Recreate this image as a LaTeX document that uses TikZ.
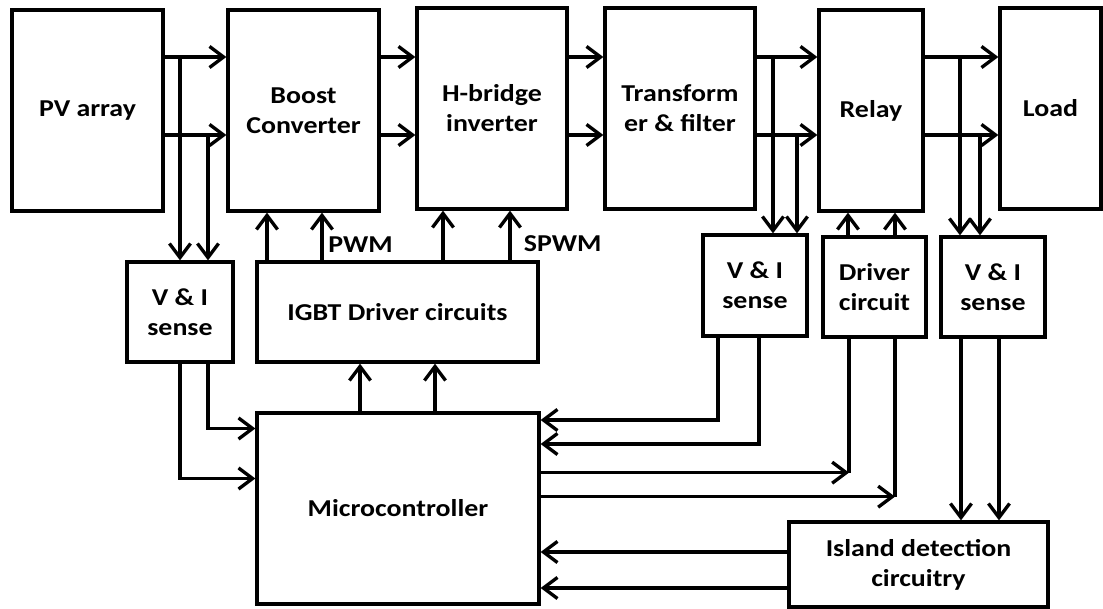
\documentclass[tikz,border=0pt]{standalone}
\usepackage{fontspec}
\setmainfont{Carlito}[FakeStretch=1.15]
\usetikzlibrary{arrows.meta,positioning,calc}

\begin{document}
\begin{tikzpicture}[x=0.02cm,y=-0.02cm,
  blk/.style={draw,line width=1.9pt,inner sep=0pt,align=center,font=\fontsize{13.8}{17}\selectfont\bfseries},
  arr/.style={line width=1.9pt,-{Straight Barb[length=8pt,width=12pt]}},
  wire/.style={line width=1.9pt},
  lbl/.style={font=\fontsize{13.8}{17}\selectfont\bfseries,inner sep=2pt}]
  \useasboundingbox (0,0) rectangle (1103,609);
  % Power stage
  \node[blk,minimum width=3.02cm,minimum height=4.02cm] (pv) at (87.5,110.5) {PV array};
  \node[blk,minimum width=3.02cm,minimum height=4.02cm] (boost) at (303.5,110.5) {Boost\\Converter};
  \node[blk,minimum width=3cm,minimum height=4.02cm] (hb) at (492,108.5) {H-bridge\\inverter};
  \node[blk,minimum width=3cm,minimum height=4.02cm] (tf) at (680,108.5) {Transform\\er \& filter};
  \node[blk,minimum width=2.08cm,minimum height=4.02cm] (relay) at (871,110.5) {Relay};
  \node[blk,minimum width=2.02cm,minimum height=4.02cm] (load) at (1050.5,108.5) {Load};
  % Sensing and drivers
  \node[blk,minimum width=2.12cm,minimum height=2cm] (vis1) at (180,312) {V \& I\\sense};
  \node[blk,minimum width=5.62cm,minimum height=2cm] (igbt) at (397.5,312) {IGBT Driver circuits};
  \node[blk,minimum width=2.08cm,minimum height=2.02cm] (vis2) at (755,285.5) {V \& I\\sense};
  \node[blk,minimum width=2.06cm,minimum height=2cm] (drv) at (874.5,287) {Driver\\circuit};
  \node[blk,minimum width=2.08cm,minimum height=2cm] (vis3) at (993,287) {V \& I\\sense};
  % Control
  \node[blk,minimum width=5.64cm,minimum height=3.82cm] (mcu) at (398,508.5) {Microcontroller};
  \node[blk,minimum width=5.18cm,minimum height=1.7cm] (isl) at (918.5,564.5) {Island detection\\circuitry};
  % Power lines
  \coordinate (ra) at (0,57);
  \coordinate (rb) at (0,135);
  \foreach \a/\b in {pv/boost,boost/hb,hb/tf,tf/relay,relay/load}{
    \draw[arr] (\a.east |- ra) -- (\b.west |- ra);
    \draw[arr] (\a.east |- rb) -- (\b.west |- rb);
  }
  % Taps down to the sense boxes
  \foreach \s/\dx/\r in {vis1/0/ra,vis1/28/rb,vis2/18/ra,vis2/42/rb,vis3/-33/ra,vis3/-13/rb}
    \draw[arr] ($(\s.north |- \r)+(\dx,0)$) -- ($(\s.north)+(\dx,0)$);
  % Gate and relay drive
  \foreach \s/\t/\dx in {igbt/boost/-36.5,igbt/boost/18.5,igbt/hb/-49,igbt/hb/18,drv/relay/-23,drv/relay/24,mcu/igbt/-37.5,mcu/igbt/37.5}
    \draw[arr] ($(\t.south |- \s.north)+(\dx,0)$) -- ($(\t.south)+(\dx,0)$);
  \node[lbl,anchor=west] (pwm) at ($(boost.south)+(21,32)$) {PWM};
  \node[lbl,anchor=west] (spwm) at ($(hb.south)+(28,33)$) {SPWM};
  % Feedback to the microcontroller
  \draw[arr] (vis1.south) |- ($(mcu.west)+(0,-30)$);
  \draw[arr] ($(vis1.south)+(28,0)$) |- ($(mcu.west)+(0,-80)$);
  \draw[arr] ($(vis2.south)+(-37,0)$) |- ($(mcu.east)+(0,-88.5)$);
  \draw[arr] ($(vis2.south)+(4,0)$) |- ($(mcu.east)+(0,-64.5)$);
  % Relay commands
  \draw[wire] ($(drv.south)+(-25.5,0)$) -- ++(0,134) coordinate (e1);
  \draw[arr] (mcu.east |- e1) -- (e1);
  \draw[wire] ($(drv.south)+(20.5,0)$) -- ++(0,158) coordinate (e2);
  \draw[arr] (mcu.east |- e2) -- (e2);
  % Island detection
  \draw[arr] ($(vis3.south)+(-32,0)$) -- ($(isl.north -| vis3.south)+(-32,0)$);
  \draw[arr] ($(vis3.south)+(6,0)$) -- ($(isl.north -| vis3.south)+(6,0)$);
  \draw[arr] ($(isl.west)+(0,-12.5)$) -- ($(mcu.east |- isl.west)+(0,-12.5)$);
  \draw[arr] ($(isl.west)+(0,23.5)$) -- ($(mcu.east |- isl.west)+(0,23.5)$);
\end{tikzpicture}
\end{document}
